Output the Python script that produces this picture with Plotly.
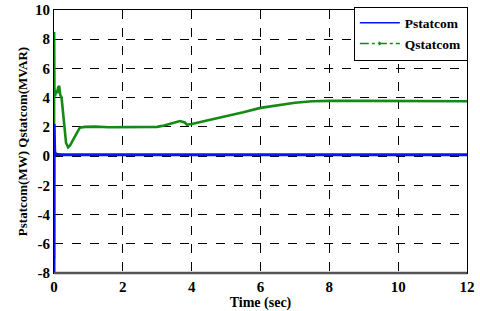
import plotly.graph_objects as go

# Qstatcom (MVAR)
q_time = [0, 0.004, 0.008, 0.012, 0.03, 0.06, 0.09, 0.12, 0.15, 0.18, 0.22, 0.26, 0.3, 0.35, 0.41,
          0.47, 0.55, 0.65, 0.75, 0.9, 1.2, 1.6, 2.0, 2.5, 3.0, 3.2, 3.4, 3.66, 3.8, 3.86,
          4.0, 4.3, 4.6, 5.0, 5.5, 6.0, 6.5, 7.0, 7.5, 8.0, 9.0, 10.0, 11.0, 12.0]
q_vals = [-7.0, 8.5, 4.2, 4.6, 4.1, 4.5, 4.3, 4.7, 4.8, 4.2, 4.0, 3.0, 1.8, 0.9, 0.6,
          0.75, 1.1, 1.55, 1.95, 2.0, 2.02, 1.98, 2.0, 2.0, 2.0, 2.1, 2.25, 2.4, 2.3, 2.15,
          2.2, 2.35, 2.5, 2.7, 3.0, 3.3, 3.5, 3.65, 3.75, 3.78, 3.78, 3.78, 3.76, 3.75]

# Pstatcom (MW)
p_time = [0, 0.003, 0.006, 0.01, 0.02, 0.04, 0.08, 0.2, 1.0, 2.0, 4.0, 6.0, 8.0, 10.0, 12.0]
p_vals = [-8.0, 2.2, 0.7, 0.15, 0.35, 0.1, 0.12, 0.1, 0.1, 0.1, 0.1, 0.1, 0.1, 0.1, 0.1]

x_ticks = [0, 2, 4, 6, 8, 10, 12]
y_ticks = [-8, -6, -4, -2, 0, 2, 4, 6, 8, 10]

BLUE = "#0a14f0"
GREEN = "#138a13"
FONT = "Liberation Serif"

fig = go.Figure()
fig.add_trace(go.Scatter(x=q_time, y=q_vals, mode="lines", line=dict(color=GREEN, width=2.6),
                         showlegend=False, hoverinfo="skip"))
fig.add_trace(go.Scatter(x=p_time, y=p_vals, mode="lines", line=dict(color=BLUE, width=3),
                         showlegend=False, hoverinfo="skip"))
# legend entries
fig.add_trace(go.Scatter(x=[None], y=[None], mode="lines", name="Pstatcom",
                         line=dict(color=BLUE, width=1.5)))
fig.add_trace(go.Scatter(x=[None], y=[None], mode="lines+markers", name="Qstatcom",
                         line=dict(color=GREEN, width=1.5, dash="dashdot"),
                         marker=dict(symbol="triangle-right", size=4, color=GREEN)))

axis_common = dict(showgrid=True, gridcolor="black", griddash="dash", gridwidth=1,
                   zeroline=False, showline=True, linecolor="black", linewidth=1, mirror=True,
                   ticks="", automargin=False,
                   tickfont=dict(family=FONT, size=15, color="black", weight="bold"))

fig.update_xaxes(range=[0, 12], tickvals=x_ticks, ticktext=[str(v) for v in x_ticks],
                 title=dict(text="<b>Time (sec)</b>", font=dict(family=FONT, size=14, color="black"),
                            standoff=2),
                 ticklabeloverflow="allow",
                 **axis_common)
fig.update_yaxes(range=[-8, 10], tickvals=y_ticks, ticktext=[str(v) for v in y_ticks],
                 title=dict(text="<b>Pstatcom(MW) Qstatcom(MVAR)</b>",
                            font=dict(family=FONT, size=13, color="black"), standoff=4),
                 **axis_common)

fig.add_shape(type="line", xref="paper", yref="paper", x0=0, x1=1, y0=0, y1=0,
              line=dict(color="#555555", width=2.5))

fig.update_layout(
    width=480, height=311,
    margin=dict(l=54, r=13, t=10, b=38, autoexpand=False),
    paper_bgcolor="white", plot_bgcolor="white",
    font=dict(family=FONT, color="black"),
    legend=dict(x=1.002, xanchor="right", y=1.013, yanchor="top",
                bgcolor="white", bordercolor="black", borderwidth=1,
                font=dict(family=FONT, size=13.5, color="black", weight="bold"),
                tracegroupgap=0, itemwidth=40),
)

fig.write_html("out.html", config={"displayModeBar": False},
               post_script="document.body.style.margin='0';document.body.style.overflow='hidden';")
